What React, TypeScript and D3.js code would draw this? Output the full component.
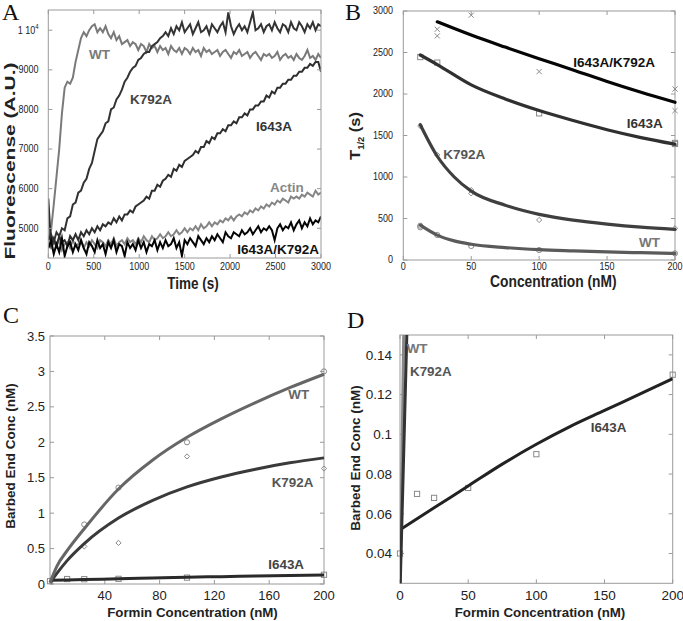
import React from 'react';
import * as d3 from 'd3';

// ---------------- Panel A data (sampled every 30 s from 0 to 3000 s) ----------------
const aTimeMax = 3000;
const aWT = [4700,4950,5600,6300,7000,7900,8550,8700,8650,8800,9200,
  9500,9800,9950,9850,10000,10100,10150,9950,10050,9950,
  10100,9900,9800,9950,9750,9850,9650,9700,9750,9600,
  9700,9650,9500,9650,9600,9450,9650,9550,9600,9450,
  9600,9500,9550,9400,9600,9500,9450,9550,9400,9550,
  9500,9400,9550,9450,9500,9350,9550,9450,9500,9400,
  9450,9500,9350,9450,9500,9400,9300,9450,9400,9500,
  9350,9400,9450,9300,9400,9450,9350,9250,9400,9350,
  9400,9300,9350,9450,9250,9350,9400,9300,9350,9250,
  9400,9300,9250,9350,9500,9300,9350,9250,9400,9300];
const aK792A = [4700,4850,4650,4900,4800,5000,4950,5250,5300,5600,5650,
  5900,5950,6150,6250,6500,6650,6950,7250,7350,7450,
  7650,7700,8000,8050,8250,8350,8500,8700,8800,8950,
  9050,9100,9250,9300,9400,9450,9450,9600,9650,9700,
  9800,9850,9950,9850,10050,9900,10100,10000,10200,9950,
  10050,10150,9900,10050,10200,9950,10000,10100,9900,10150,
  10050,9950,10100,10200,9950,10450,10100,9900,10050,10150,
  10000,10100,9950,10200,10450,10000,10050,10150,9950,10100,
  10150,10000,10200,10050,9950,10150,10100,9950,10200,10050,
  10000,10200,10100,9950,10150,10050,10200,10000,10150,10100];
const aI643A = [5750,4600,4750,4550,4800,4650,4700,4550,4800,4700,4850,
  4700,4900,4800,4950,4850,5000,4900,5050,4950,5100,
  5050,5150,5100,5250,5150,5300,5200,5350,5350,5450,
  5400,5550,5600,5650,5700,5800,5750,5950,5950,6100,
  6050,6200,6250,6350,6300,6500,6450,6600,6550,6700,
  6750,6800,6850,6950,6900,7050,7050,7200,7150,7300,
  7250,7400,7400,7500,7450,7600,7600,7700,7650,7800,
  7800,7900,7850,8000,8000,8100,8100,8200,8200,8350,
  8300,8450,8400,8550,8550,8650,8650,8750,8750,8850,
  8850,8950,8950,9050,9050,9150,9100,9200,9200,8950];
const aActin = [4600,4500,4650,4550,4700,4450,4600,4650,4500,4700,4550,
  4600,4700,4500,4650,4550,4700,4600,4500,4700,4650,
  4550,4700,4600,4750,4550,4650,4700,4600,4750,4650,
  4700,4600,4750,4650,4800,4700,4650,4800,4700,4750,
  4850,4750,4800,4900,4800,4850,4950,4850,4900,5000,
  4900,5000,4950,5050,4950,5100,5000,5050,5150,5050,
  5150,5100,5200,5150,5250,5200,5300,5200,5300,5350,
  5300,5400,5350,5450,5400,5500,5450,5550,5500,5600,
  5550,5650,5600,5700,5650,5750,5700,5650,5800,5750,
  5800,5750,5850,5800,5900,5850,5800,5950,5850,5900];
const aDouble = [4500,4700,4350,4600,4400,4750,4300,4550,4650,4400,4600,
  4450,4700,4500,4350,4650,4550,4400,4700,4500,4600,
  4350,4650,4500,4700,4400,4600,4550,4300,4650,4500,
  4600,4450,4700,4500,4650,4400,4600,4550,4700,4450,
  4650,4500,4700,4550,4600,4750,4500,4650,4300,4700,
  4600,4750,4650,4550,4800,4700,4600,4750,4650,4800,
  4700,4850,4750,4650,4900,4800,4750,4900,4850,4800,
  4950,4850,4900,5000,4850,4950,5050,4900,5000,4950,
  5050,4950,4700,5000,5100,4950,5050,5000,5150,4950,
  5100,5200,5000,5150,5050,5250,5100,5200,5150,5300];
const aXTicks = [0, 500, 1000, 1500, 2000, 2500, 3000];
const aYTicks = [5000, 6000, 7000, 8000, 9000, 10000];

// ---------------- Panel B data ----------------
const bXTicks = [0, 50, 100, 150, 200];
const bYTicks = [0, 500, 1000, 1500, 2000, 2500, 3000];
const bDoublePts: [number, number][] = [[25,2780],[25,2700],[50,2950],[100,2270],[200,2060],[200,1800]];
const bI643APts: [number, number][] = [[12.5,2445],[25,2378],[100,1767],[200,1398],[200,1410]];
const bK792APts: [number, number][] = [[12.5,1614],[25,1265],[50,843],[50,803],[100,482],[200,382]];
const bWTPts: [number, number][] = [[12.5,413],[12.5,394],[25,301],[50,169],[100,120],[200,80]];
const bDoubleFit: [number, number][] = [[25,2870],[50,2710],[75,2565],[100,2425],[125,2290],[150,2150],[175,2020],[200,1900]];
const bI643AFit: [number, number][] = [[12.5,2470],[25,2355],[50,2110],[75,1940],[100,1800],[125,1680],[150,1570],[175,1475],[200,1395]];
const bK792AFit: [number, number][] = [[12.5,1630],[25,1250],[37.5,1000],[50,830],[75,660],[100,550],[125,480],[150,432],[175,395],[200,370]];
const bWTFit: [number, number][] = [[12.5,420],[25,300],[37.5,230],[50,190],[75,150],[100,125],[125,110],[150,97],[175,88],[200,80]];

// ---------------- Panel C / D data ----------------
const cXTicks = [40, 80, 120, 160, 200];
const cYTicks = [0, 0.5, 1, 1.5, 2, 2.5, 3, 3.5];
const dXTicks = [0, 50, 100, 150, 200];
const dYTicks = [0.04, 0.06, 0.08, 0.1, 0.12, 0.14];
const cWTPts: [number, number][] = [[25,0.84],[50,1.36],[100,2.0],[200,3.0]];
const cK792APts: [number, number][] = [[25,0.53],[50,0.58],[100,1.8],[200,1.63]];
const cI643APts: [number, number][] = [[0,0.04],[12.5,0.07],[25,0.068],[50,0.073],[100,0.09],[200,0.13]];
const cWTFit: [number, number][] = [[0,0.02],[2.5,0.14],[5,0.25],[12.5,0.47],[25,0.78],[50,1.34],[75,1.75],[100,2.07],[125,2.33],[150,2.56],[175,2.77],[200,2.96]];
const cK792AFit: [number, number][] = [[0,0.02],[2.5,0.085],[5,0.15],[12.5,0.33],[25,0.57],[50,0.93],[75,1.18],[100,1.37],[125,1.51],[150,1.62],[175,1.71],[200,1.78]];
const cI643AFit: [number, number][] = [[0,0.052],[25,0.063],[50,0.074],[75,0.085],[100,0.095],[125,0.104],[150,0.112],[175,0.12],[200,0.128]];

const SANS = "'Liberation Sans', Arial, Helvetica, sans-serif";
const SERIF = "'Liberation Serif', 'Times New Roman', serif";
const FRAME = '#9a9a9a';

type Sc = d3.ScaleLinear<number, number>;

function Frame({ x, y, xt, yt, tick = 4, top = true, right = true }: { x: Sc; y: Sc; xt: number[]; yt: number[]; tick?: number; top?: boolean; right?: boolean }) {
  const [x0, x1] = x.range();
  const [y0, y1] = y.range();
  return (
    <g stroke={FRAME} strokeWidth={1} fill="none">
      <rect x={x0} y={y1} width={x1 - x0} height={y0 - y1} />
      {xt.map((t, i) => (
        <g key={'x' + i}>
          <line x1={x(t)} x2={x(t)} y1={y0} y2={y0 - tick} />
          {top && <line x1={x(t)} x2={x(t)} y1={y1} y2={y1 + tick} />}
        </g>
      ))}
      {yt.map((t, i) => (
        <g key={'y' + i}>
          <line x1={x0} x2={x0 + tick} y1={y(t)} y2={y(t)} />
          {right && <line x1={x1} x2={x1 - tick} y1={y(t)} y2={y(t)} />}
        </g>
      ))}
    </g>
  );
}

function Marker({ type, cx, cy, color = '#8a8a8a', s = 2.6 }: { type: string; cx: number; cy: number; color?: string; s?: number }) {
  if (type === 'x')
    return (
      <g stroke={color} strokeWidth={1}>
        <line x1={cx - s} x2={cx + s} y1={cy - s} y2={cy + s} />
        <line x1={cx - s} x2={cx + s} y1={cy + s} y2={cy - s} />
      </g>
    );
  if (type === 'square') return <rect x={cx - s} y={cy - s} width={2 * s} height={2 * s} fill="none" stroke={color} strokeWidth={1} />;
  if (type === 'diamond')
    return <polygon points={`${cx},${cy - s} ${cx + s},${cy} ${cx},${cy + s} ${cx - s},${cy}`} fill="none" stroke={color} strokeWidth={1} />;
  return <circle cx={cx} cy={cy} r={s} fill="none" stroke={color} strokeWidth={1} />;
}

function PanelA() {
  const x = d3.scaleLinear([0, aTimeMax], [48.3, 321]);
  const y = d3.scaleLinear([4250, 10510], [258, 10]);
  const mk = (vals: number[]) => {
    const pts: [number, number][] = vals.map((v, i) => [(i * aTimeMax) / (vals.length - 1), v]);
    return d3.line<[number, number]>().x(d => x(d[0])).y(d => y(d[1]))(pts) || '';
  };
  const series = [
    { v: aWT, c: '#7a7a7a' },
    { v: aActin, c: '#858585' },
    { v: aK792A, c: '#333333' },
    { v: aI643A, c: '#2e2e2e' },
    { v: aDouble, c: '#050505' },
  ];
  return (
    <g>
      <defs>
        <clipPath id="clipA"><rect x={48.3} y={10} width={272.7} height={248} /></clipPath>
      </defs>
      <g clipPath="url(#clipA)">
        {series.map((s, i) => (
          <path key={i} d={mk(s.v)} fill="none" stroke={s.c} strokeWidth={2} strokeLinejoin="miter" strokeMiterlimit={6} />
        ))}
      </g>
      <Frame x={x} y={y} xt={aXTicks} yt={aYTicks} />
      <g fontFamily={SANS} fontSize={9} fill="#222">
        {aXTicks.map(t => (
          <text key={t} transform={`translate(${x(t)},269.8) scale(1,1.2)`} textAnchor="middle">{t}</text>
        ))}
        {aYTicks.map(t => (
          <text key={t} transform={`translate(38.5,${y(t) + 3.3}) scale(1,1.2)`} textAnchor="end">
            {t === 10000 ? <>1 10<tspan fontSize={6} dy={-4}>4</tspan></> : t}
          </text>
        ))}
      </g>
      <g fontFamily={SANS} fontWeight="bold" fill="#222">
        <text transform="translate(15,161) rotate(-90) scale(1.4,1)" textAnchor="middle" fontSize={15}>Fluorescense (A.U.)</text>
        <text transform="translate(193,288.5) scale(1,1.2)" textAnchor="middle" fontSize={13.5}>Time (s)</text>
      </g>
      <g fontFamily={SANS} fontWeight="bold" fontSize={13.5}>
        <text x={89} y={59.3} fill="#7a7a7a">WT</text>
        <text x={130} y={104.3} fill="#444">K792A</text>
        <text x={256} y={131} fill="#333">I643A</text>
        <text x={270} y={192} fill="#888">Actin</text>
        <text x={237.3} y={254.3} fill="#111">I643A/K792A</text>
      </g>
      <text x={2} y={20} fontFamily={SERIF} fontSize={24} fill="#111">A</text>
    </g>
  );
}

function PanelB() {
  const x = d3.scaleLinear([0, 200], [403.3, 675]);
  const y = d3.scaleLinear([0, 3000], [260, 11]);
  const line = d3.line<[number, number]>().x(d => x(d[0])).y(d => y(d[1])).curve(d3.curveMonotoneX);
  const fits = [
    { d: bWTFit, c: '#5a5a5a' },
    { d: bK792AFit, c: '#3f3f3f' },
    { d: bI643AFit, c: '#303030' },
    { d: bDoubleFit, c: '#050505' },
  ];
  const pts = [
    { d: bDoublePts, t: 'x' },
    { d: bI643APts, t: 'square' },
    { d: bK792APts, t: 'diamond' },
    { d: bWTPts, t: 'circle' },
  ];
  return (
    <g>
      <Frame x={x} y={y} xt={bXTicks} yt={bYTicks} />
      {pts.map((p, i) => (
        <g key={i}>{p.d.map((q, j) => <Marker key={j} type={p.t} cx={x(q[0])} cy={y(q[1])} />)}</g>
      ))}
      {fits.map((f, i) => (
        <path key={i} d={line(f.d) || ''} fill="none" stroke={f.c} strokeWidth={3.2} strokeLinecap="round" />
      ))}
      <g fontFamily={SANS} fontSize={9} fill="#222">
        {bXTicks.map(t => (
          <text key={t} transform={`translate(${x(t)},269.5) scale(1,1.2)`} textAnchor="middle">{t}</text>
        ))}
        {bYTicks.map(t => (
          <text key={t} transform={`translate(393,${y(t) + 3.3}) scale(1,1.2)`} textAnchor="end">{t}</text>
        ))}
      </g>
      <g fontFamily={SANS} fontWeight="bold" fill="#222">
        <text transform="translate(360,136) rotate(-90) scale(1.1,1)" textAnchor="middle" fontSize={15}>
          T<tspan fontSize={8.5} dy={4}>1/2</tspan><tspan dy={-4}> (s)</tspan>
        </text>
        <text transform="translate(553.3,287.2) scale(1,1.2)" textAnchor="middle" fontSize={13.8}>Concentration (nM)</text>
      </g>
      <g fontFamily={SANS} fontWeight="bold" fontSize={13.5}>
        <text x={573.3} y={67.3} fill="#111">I643A/K792A</text>
        <text x={626.7} y={128.3} fill="#333">I643A</text>
        <text x={443.3} y={159} fill="#555">K792A</text>
        <text x={639} y={247.3} fill="#777">WT</text>
      </g>
      <text x={345} y={20} fontFamily={SERIF} fontSize={24} fill="#111">B</text>
    </g>
  );
}

function PanelC() {
  const x = d3.scaleLinear([0, 200], [50, 324]);
  const y = d3.scaleLinear([0, 3.5], [584, 336]);
  const line = d3.line<[number, number]>().x(d => x(d[0])).y(d => y(d[1])).curve(d3.curveMonotoneX);
  return (
    <g>
      <Frame x={x} y={y} xt={cXTicks} yt={cYTicks} />
      {cWTPts.map((q, j) => <Marker key={'w' + j} type="circle" cx={x(q[0])} cy={y(q[1])} />)}
      {cK792APts.map((q, j) => <Marker key={'k' + j} type="diamond" cx={x(q[0])} cy={y(q[1])} />)}
      {cI643APts.map((q, j) => <Marker key={'i' + j} type="square" cx={x(q[0])} cy={y(q[1])} />)}
      <path d={line(cI643AFit) || ''} fill="none" stroke="#2a2a2a" strokeWidth={3} />
      <path d={line(cK792AFit) || ''} fill="none" stroke="#3a3a3a" strokeWidth={3} />
      <path d={line(cWTFit) || ''} fill="none" stroke="#666" strokeWidth={3} />
      <g fontFamily={SANS} fontSize={13} fill="#222">
        {cXTicks.map(t => (
          <text key={t} x={x(t)} y={600} textAnchor="middle">{t}</text>
        ))}
        {cYTicks.map(t => (
          <text key={t} x={45} y={y(t) + 4.6} textAnchor="end">{t}</text>
        ))}
      </g>
      <g fontFamily={SANS} fontWeight="bold" fill="#222" fontSize={13.5}>
        <text transform="translate(15,456) rotate(-90)" textAnchor="middle">Barbed End Conc (nM)</text>
        <text x={192.5} y={616.7} textAnchor="middle" fontSize={13.3}>Formin Concentration (nM)</text>
      </g>
      <g fontFamily={SANS} fontWeight="bold" fontSize={13.4}>
        <text x={288.3} y={399.3} fill="#666">WT</text>
        <text x={271.7} y={486.7} fill="#555">K792A</text>
        <text x={268.3} y={568.7} fill="#444">I643A</text>
      </g>
      <text x={3} y={323} fontFamily={SERIF} fontSize={24} fill="#111">C</text>
    </g>
  );
}

function PanelD() {
  const x = d3.scaleLinear([0, 200], [400, 672.7]);
  const y = d3.scaleLinear([0.025, 0.15], [583.3, 335]);
  const line = d3.line<[number, number]>().x(d => x(d[0])).y(d => y(d[1])).curve(d3.curveMonotoneX);
  return (
    <g>
      <defs>
        <clipPath id="clipD"><rect x={400} y={335} width={272.7} height={248.3} /></clipPath>
      </defs>
      <Frame x={x} y={y} xt={dXTicks} yt={dYTicks} />
      {cI643APts.map((q, j) => <Marker key={'i' + j} type="square" cx={x(q[0])} cy={y(q[1])} />)}
      <g clipPath="url(#clipD)">
        <path d={line(cI643AFit) || ''} fill="none" stroke="#222" strokeWidth={3} />
        <path d={line(cWTFit) || ''} fill="none" stroke="#888" strokeWidth={3} />
        <path d={line(cK792AFit) || ''} fill="none" stroke="#333" strokeWidth={3} />
      </g>
      <g fontFamily={SANS} fontSize={13.5} fill="#222">
        {dXTicks.map(t => (
          <text key={t} x={x(t)} y={600} textAnchor="middle">{t}</text>
        ))}
        {dYTicks.map(t => (
          <text key={t} x={392} y={y(t) + 4.8} textAnchor="end">{t}</text>
        ))}
      </g>
      <g fontFamily={SANS} fontWeight="bold" fill="#222" fontSize={13.5}>
        <text transform="translate(360,458) rotate(-90)" textAnchor="middle">Barbed End Conc (nM)</text>
        <text x={540} y={616.7} textAnchor="middle" fontSize={13.3}>Formin Concentration (nM)</text>
      </g>
      <g fontFamily={SANS} fontWeight="bold" fontSize={13.4}>
        <text x={406.7} y={353.3} fill="#777">WT</text>
        <text x={410} y={376} fill="#555">K792A</text>
        <text x={590.7} y={432} fill="#444">I643A</text>
      </g>
      <text x={347} y={328} fontFamily={SERIF} fontSize={24} fill="#111">D</text>
    </g>
  );
}

export default function App() {
  return (
    <svg width={683} height={621} viewBox="0 0 683 621" style={{ position: 'absolute', left: 0, top: 0, background: '#fff' }}>
      <rect width={683} height={621} fill="#fff" />
      <PanelA />
      <PanelB />
      <PanelC />
      <PanelD />
    </svg>
  );
}
